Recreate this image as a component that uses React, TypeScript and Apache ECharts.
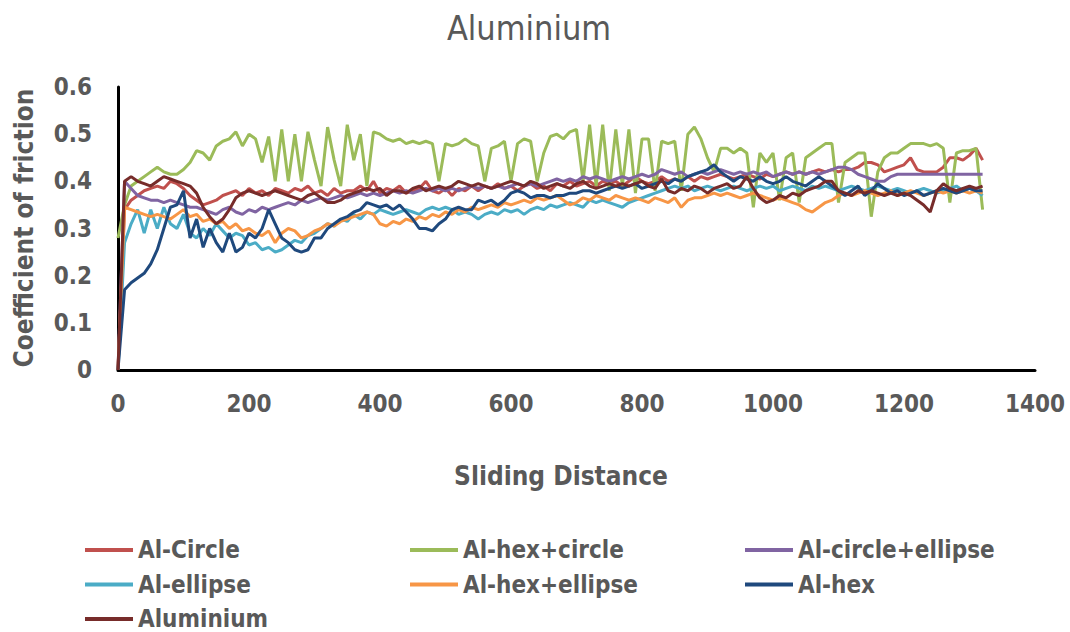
import React, { useEffect, useRef } from "react";
import * as echarts from "echarts";

const distance = [
  0, 10, 20, 30, 40, 50, 60, 70, 80, 90,
  100, 110, 120, 130, 140, 150, 160, 170, 180, 190,
  200, 210, 220, 230, 240, 250, 260, 270, 280, 290,
  300, 310, 320, 330, 340, 350, 360, 370, 380, 390,
  400, 410, 420, 430, 440, 450, 460, 470, 480, 490,
  500, 510, 520, 530, 540, 550, 560, 570, 580, 590,
  600, 610, 620, 630, 640, 650, 660, 670, 680, 690,
  700, 710, 720, 730, 740, 750, 760, 770, 780, 790,
  800, 810, 820, 830, 840, 850, 860, 870, 880, 890,
  900, 910, 920, 930, 940, 950, 960, 970, 980, 990,
  1000, 1010, 1020, 1030, 1040, 1050, 1060, 1070, 1080, 1090,
  1100, 1110, 1120, 1130, 1140, 1150, 1160, 1170, 1180, 1190,
  1200, 1210, 1220, 1230, 1240, 1250, 1260, 1270, 1280, 1290,
  1300, 1310, 1320,
];

const alCircle = [
  0.0, 0.34, 0.36, 0.37, 0.38, 0.385, 0.39, 0.385, 0.40, 0.395,
  0.385, 0.37, 0.36, 0.35, 0.355, 0.36, 0.37, 0.375, 0.38, 0.37,
  0.385, 0.375, 0.38, 0.37, 0.385, 0.38, 0.375, 0.385, 0.38, 0.39,
  0.375, 0.38, 0.37, 0.385, 0.375, 0.38, 0.38, 0.39, 0.38, 0.40,
  0.375, 0.385, 0.38, 0.39, 0.375, 0.38, 0.385, 0.40, 0.38, 0.375,
  0.385, 0.37, 0.385, 0.38, 0.39, 0.38, 0.39, 0.385, 0.395, 0.385,
  0.39, 0.38, 0.39, 0.395, 0.385, 0.39, 0.38, 0.395, 0.39, 0.40,
  0.39, 0.395, 0.40, 0.39, 0.40, 0.395, 0.40, 0.39, 0.40, 0.41,
  0.40, 0.395, 0.40, 0.41, 0.40, 0.405, 0.40, 0.41, 0.40, 0.41,
  0.405, 0.41, 0.415, 0.41, 0.405, 0.41, 0.415, 0.41, 0.405, 0.415,
  0.41, 0.415, 0.42, 0.415, 0.42, 0.415, 0.42, 0.425, 0.42, 0.425,
  0.42, 0.425, 0.425, 0.43, 0.44, 0.44, 0.435, 0.42, 0.425, 0.43,
  0.435, 0.45, 0.425, 0.42, 0.42, 0.42, 0.43, 0.45, 0.45, 0.445,
  0.455, 0.47, 0.445,
];

const alHexCircle = [
  0.28, 0.35, 0.39, 0.40, 0.41, 0.42, 0.43, 0.42, 0.415, 0.415,
  0.425, 0.44, 0.465, 0.46, 0.445, 0.475, 0.485, 0.49, 0.505, 0.475,
  0.50, 0.49, 0.44, 0.495, 0.40, 0.51, 0.40, 0.50, 0.40, 0.505,
  0.445, 0.39, 0.515, 0.445, 0.39, 0.52, 0.445, 0.50, 0.39, 0.505,
  0.50, 0.49, 0.485, 0.49, 0.48, 0.485, 0.48, 0.485, 0.48, 0.40,
  0.48, 0.475, 0.48, 0.49, 0.48, 0.475, 0.40, 0.47, 0.475, 0.485,
  0.40, 0.48, 0.49, 0.485, 0.40, 0.46, 0.495, 0.50, 0.49, 0.505,
  0.51, 0.40, 0.52, 0.39, 0.52, 0.38, 0.51, 0.39, 0.51, 0.375,
  0.49, 0.49, 0.38, 0.485, 0.48, 0.485, 0.38, 0.50, 0.515, 0.49,
  0.45, 0.42, 0.47, 0.47, 0.46, 0.47, 0.46, 0.345, 0.46, 0.44,
  0.46, 0.36, 0.45, 0.46, 0.355, 0.45, 0.46, 0.47, 0.48, 0.48,
  0.355, 0.44, 0.45, 0.46, 0.46, 0.325, 0.42, 0.45, 0.46, 0.46,
  0.47, 0.48, 0.48, 0.48, 0.475, 0.48, 0.47, 0.355, 0.46, 0.465,
  0.465, 0.47, 0.34,
];

const alCircleEllipse = [
  0.0, 0.40, 0.385, 0.37, 0.365, 0.36, 0.36, 0.355, 0.36, 0.355,
  0.35, 0.345, 0.345, 0.34, 0.335, 0.33, 0.34, 0.345, 0.335, 0.33,
  0.34, 0.335, 0.345, 0.34, 0.345, 0.35, 0.355, 0.35, 0.36, 0.355,
  0.36, 0.365, 0.36, 0.365, 0.37, 0.365, 0.37, 0.375, 0.37, 0.375,
  0.37, 0.375, 0.38, 0.375, 0.38, 0.375, 0.38, 0.385, 0.38, 0.385,
  0.38, 0.385, 0.38, 0.385, 0.39, 0.385, 0.39, 0.385, 0.39, 0.385,
  0.39, 0.395, 0.39, 0.395, 0.39, 0.395, 0.40, 0.405, 0.40, 0.405,
  0.40, 0.41, 0.405, 0.41, 0.405, 0.40, 0.405, 0.41, 0.405, 0.41,
  0.415, 0.41, 0.415, 0.425, 0.42, 0.415, 0.42, 0.41, 0.415, 0.42,
  0.415, 0.42, 0.425, 0.42, 0.415, 0.42, 0.415, 0.42, 0.415, 0.42,
  0.41, 0.415, 0.42, 0.415, 0.42, 0.415, 0.42, 0.415, 0.42, 0.425,
  0.43, 0.43, 0.425, 0.415, 0.41, 0.405, 0.40, 0.40, 0.41, 0.415,
  0.415, 0.415, 0.415, 0.415, 0.415, 0.415, 0.415, 0.415, 0.415, 0.415,
  0.415, 0.415, 0.415,
];

const alEllipse = [
  0.0, 0.27, 0.31, 0.34, 0.29, 0.34, 0.30, 0.345, 0.31, 0.30,
  0.33, 0.29, 0.28, 0.30, 0.285, 0.31, 0.295, 0.28, 0.29, 0.285,
  0.265, 0.27, 0.255, 0.26, 0.25, 0.255, 0.265, 0.275, 0.27, 0.285,
  0.29, 0.30, 0.31, 0.305, 0.32, 0.315, 0.33, 0.32, 0.335, 0.33,
  0.34, 0.335, 0.33, 0.335, 0.34, 0.335, 0.33, 0.34, 0.345, 0.34,
  0.345, 0.34, 0.33, 0.335, 0.33, 0.32, 0.33, 0.335, 0.33, 0.34,
  0.335, 0.34, 0.33, 0.34, 0.345, 0.34, 0.35, 0.345, 0.35, 0.355,
  0.35, 0.345, 0.36, 0.355, 0.36, 0.355, 0.35, 0.345, 0.355, 0.36,
  0.365, 0.37, 0.375, 0.38, 0.385, 0.39, 0.385, 0.39, 0.38, 0.385,
  0.39, 0.385, 0.38, 0.385, 0.39, 0.385, 0.38, 0.385, 0.39, 0.385,
  0.39, 0.38, 0.385, 0.39, 0.385, 0.38, 0.39, 0.385, 0.39, 0.385,
  0.38, 0.385, 0.39, 0.385, 0.38, 0.385, 0.39, 0.385, 0.38, 0.385,
  0.38, 0.375, 0.38, 0.385, 0.38, 0.375, 0.38, 0.385, 0.39, 0.38,
  0.385, 0.38, 0.37,
];

const alHexEllipse = [
  0.0, 0.345, 0.34, 0.335, 0.33, 0.325, 0.33, 0.325, 0.32, 0.33,
  0.34, 0.325, 0.33, 0.315, 0.32, 0.31, 0.315, 0.30, 0.31, 0.295,
  0.30, 0.29, 0.285, 0.295, 0.27, 0.29, 0.30, 0.295, 0.28, 0.285,
  0.295, 0.30, 0.31, 0.305, 0.315, 0.32, 0.325, 0.33, 0.335, 0.33,
  0.31, 0.305, 0.315, 0.31, 0.32, 0.315, 0.325, 0.32, 0.33, 0.325,
  0.335, 0.33, 0.34, 0.335, 0.345, 0.34, 0.345, 0.35, 0.345, 0.355,
  0.35, 0.355, 0.36, 0.355, 0.365, 0.36, 0.365, 0.37, 0.36, 0.35,
  0.355, 0.365, 0.36, 0.37, 0.365, 0.36, 0.37, 0.365, 0.36, 0.365,
  0.36, 0.355, 0.365, 0.36, 0.355, 0.365, 0.345, 0.36, 0.365, 0.365,
  0.37, 0.375, 0.37, 0.375, 0.37, 0.365, 0.37, 0.375, 0.37, 0.365,
  0.36, 0.365, 0.36, 0.355, 0.35, 0.34, 0.335, 0.345, 0.355, 0.36,
  0.37, 0.375, 0.37, 0.375, 0.38, 0.375, 0.37, 0.375, 0.38, 0.37,
  0.375, 0.38, 0.375, 0.37, 0.375, 0.38, 0.375, 0.38, 0.375, 0.38,
  0.375, 0.38, 0.375,
];

const alHex = [
  0.0, 0.17, 0.185, 0.195, 0.205, 0.225, 0.255, 0.30, 0.345, 0.35,
  0.38, 0.28, 0.32, 0.26, 0.30, 0.27, 0.25, 0.29, 0.25, 0.26,
  0.29, 0.28, 0.30, 0.34, 0.31, 0.28, 0.27, 0.255, 0.25, 0.255,
  0.28, 0.28, 0.30, 0.31, 0.32, 0.325, 0.335, 0.34, 0.355, 0.35,
  0.345, 0.35, 0.34, 0.35, 0.335, 0.32, 0.30, 0.30, 0.295, 0.31,
  0.32, 0.34, 0.345, 0.34, 0.34, 0.36, 0.355, 0.36, 0.35, 0.36,
  0.375, 0.38, 0.375, 0.365, 0.37, 0.37, 0.365, 0.37, 0.37, 0.375,
  0.375, 0.38, 0.38, 0.375, 0.38, 0.385, 0.39, 0.385, 0.39, 0.395,
  0.385, 0.39, 0.395, 0.40, 0.395, 0.405, 0.40, 0.41, 0.415, 0.42,
  0.425, 0.435, 0.42, 0.41, 0.40, 0.41, 0.405, 0.40, 0.41, 0.40,
  0.395, 0.40, 0.41, 0.40, 0.395, 0.39, 0.40, 0.41, 0.40, 0.39,
  0.38, 0.37, 0.38, 0.39, 0.37, 0.38, 0.395, 0.385, 0.375, 0.38,
  0.37, 0.375, 0.38, 0.37, 0.375, 0.38, 0.385, 0.38, 0.375, 0.38,
  0.385, 0.38, 0.38,
];

const aluminium = [
  0.0, 0.40, 0.41, 0.40, 0.395, 0.39, 0.40, 0.41, 0.405, 0.40,
  0.395, 0.39, 0.375, 0.345, 0.325, 0.31, 0.32, 0.34, 0.365, 0.375,
  0.38, 0.375, 0.37, 0.375, 0.38, 0.375, 0.37, 0.365, 0.36, 0.37,
  0.375, 0.365, 0.355, 0.355, 0.36, 0.37, 0.375, 0.38, 0.385, 0.38,
  0.385, 0.37, 0.38, 0.38, 0.375, 0.385, 0.39, 0.38, 0.385, 0.39,
  0.385, 0.39, 0.40, 0.395, 0.39, 0.395, 0.39, 0.385, 0.39, 0.395,
  0.40, 0.395, 0.39, 0.40, 0.395, 0.385, 0.39, 0.395, 0.39, 0.385,
  0.395, 0.40, 0.39, 0.385, 0.39, 0.395, 0.39, 0.395, 0.39, 0.395,
  0.40, 0.39, 0.385, 0.405, 0.38, 0.375, 0.385, 0.38, 0.39, 0.385,
  0.375, 0.385, 0.39, 0.395, 0.385, 0.39, 0.41, 0.385, 0.365, 0.355,
  0.36, 0.37, 0.365, 0.375, 0.37, 0.38, 0.385, 0.39, 0.40, 0.40,
  0.38, 0.375, 0.37, 0.38, 0.375, 0.38, 0.375, 0.37, 0.375, 0.37,
  0.375, 0.37, 0.36, 0.35, 0.335, 0.38, 0.395, 0.385, 0.38, 0.385,
  0.39, 0.385, 0.39,
];

const seriesNames = [
  "Al-Circle",
  "Al-hex+circle",
  "Al-circle+ellipse",
  "Al-ellipse",
  "Al-hex+ellipse",
  "Al-hex",
  "Aluminium",
];
const seriesValues = [alCircle, alHexCircle, alCircleEllipse, alEllipse, alHexEllipse, alHex, aluminium];
const seriesColors = ["#C0504D", "#9BBB59", "#8064A2", "#4BACC6", "#F79646", "#1F497D", "#772C2A"];

const legendColumns = [
  ["Al-Circle", "Al-ellipse", "Aluminium"],
  ["Al-hex+circle", "Al-hex+ellipse"],
  ["Al-circle+ellipse", "Al-hex"],
];

const FONT = "'Liberation Sans Narrow', 'DejaVu Sans Condensed', 'Liberation Sans', sans-serif";
const TEXT = "#595959";

export default function App() {
  const ref = useRef<HTMLDivElement>(null);

  useEffect(() => {
    if (!ref.current) return;
    const chart = echarts.init(ref.current, undefined, { renderer: "svg" });
    const legendLefts = [85, 410, 745];
    const option: any = {
      animation: false,
      backgroundColor: "#ffffff",
      grid: { left: 118, right: 35, top: 87, bottom: 262, containLabel: false },
      xAxis: {
        type: "value",
        min: 0,
        max: 1400,
        interval: 200,
        axisLine: { show: true, lineStyle: { color: "#000", width: 3 } },
        axisTick: { show: false },
        splitLine: { show: false },
        axisLabel: {
          margin: 22,
          fontSize: 24,
          fontWeight: "bold",
          color: TEXT,
          fontFamily: FONT,
          formatter: (v: number) => String(v),
        },
      },
      yAxis: {
        type: "value",
        min: 0,
        max: 0.6,
        interval: 0.1,
        axisLine: { show: true, lineStyle: { color: "#000", width: 3 } },
        axisTick: { show: false },
        splitLine: { show: false },
        axisLabel: {
          margin: 26,
          fontSize: 24,
          fontWeight: "bold",
          color: TEXT,
          fontFamily: FONT,
          formatter: (v: number) => String(Math.round(v * 10) / 10),
        },
      },
      legend: legendColumns.map((col, i) => ({
        orient: "vertical",
        left: legendLefts[i],
        top: 538,
        padding: 0,
        icon: "rect",
        itemWidth: 48,
        itemHeight: 4,
        itemGap: 10.5,
        selectedMode: false,
        data: col,
        textStyle: { fontSize: 24, lineHeight: 24, fontWeight: "bold", color: TEXT, fontFamily: FONT },
      })),
      graphic: [
        {
          type: "text",
          x: 529,
          y: 28,
          style: { text: "Aluminium", align: "center", verticalAlign: "middle", fontSize: 34, fontFamily: FONT, fill: TEXT },
        },
        {
          type: "text",
          x: 561,
          y: 476,
          style: { text: "Sliding Distance", align: "center", verticalAlign: "middle", fontSize: 26, fontWeight: "bold", fontFamily: FONT, fill: TEXT },
        },
        {
          type: "text",
          x: 24,
          y: 228,
          rotation: Math.PI / 2,
          style: { text: "Coefficient of friction", align: "center", verticalAlign: "middle", fontSize: 26, fontWeight: "bold", fontFamily: FONT, fill: TEXT },
        },
      ],
      series: seriesNames.map((name, i) => ({
        name,
        type: "line",
        showSymbol: false,
        symbol: "none",
        data: distance.map((d, j) => [d, seriesValues[i][j]]),
        lineStyle: { width: 3, color: seriesColors[i] },
        itemStyle: { color: seriesColors[i] },
      })),
    };
    chart.setOption(option);
    return () => chart.dispose();
  }, []);

  return <div ref={ref} style={{ position: "absolute", left: 0, top: 0, width: 1070, height: 632 }} />;
}
